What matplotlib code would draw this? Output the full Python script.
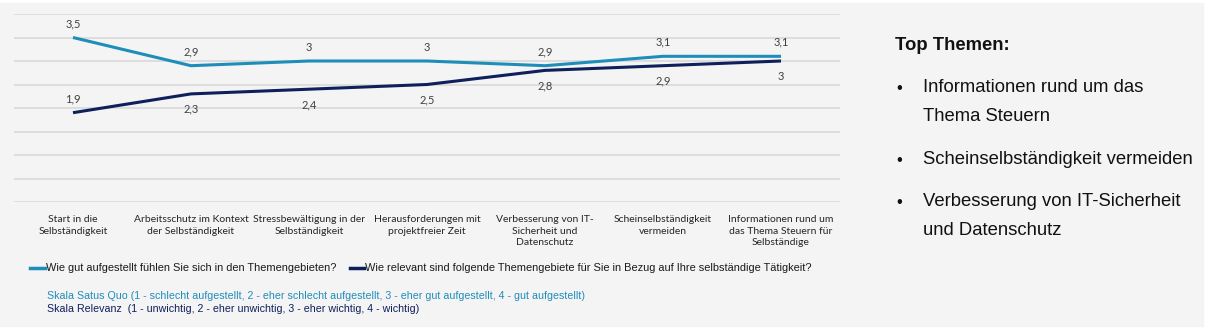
import numpy as np
import matplotlib.pyplot as plt
from matplotlib.patches import Rectangle

# data
categories = [
    'Start in die\nSelbständigkeit',
    'Arbeitsschutz im Kontext\nder Selbständigkeit',
    'Stressbewältigung in der\nSelbständigkeit',
    'Herausforderungen mit\nprojektfreier Zeit',
    'Verbesserung von IT-\nSicherheit und\nDatenschutz',
    'Scheinselbständigkeit\nvermeiden',
    'Informationen rund um\ndas Thema Steuern für\nSelbständige',
]
status_quo = [3.5, 2.9, 3.0, 3.0, 2.9, 3.1, 3.1]
relevanz = [1.9, 2.3, 2.4, 2.5, 2.8, 2.9, 3.0]
series_names = [
    'Wie gut aufgestellt fühlen Sie sich in den Themengebieten?',
    'Wie relevant sind folgende Themengebiete für Sie in Bezug auf Ihre selbständige Tätigkeit?',
]
scale_notes = [
    'Skala Satus Quo (1 - schlecht aufgestellt, 2 - eher schlecht aufgestellt, 3 - eher gut aufgestellt, 4 - gut aufgestellt)',
    'Skala Relevanz  (1 - unwichtig, 2 - eher unwichtig, 3 - eher wichtig, 4 - wichtig)',
]
top_title = 'Top Themen:'
top_items = [
    'Informationen rund um das\nThema Steuern',
    'Scheinselbständigkeit vermeiden',
    'Verbesserung von IT-Sicherheit\nund Datenschutz',
]

c_light = '#1f8dba'
c_dark = '#0f1f5c'
bg = '#f4f4f4'
W, H = 1210, 335

fig = plt.figure(figsize=(W / 100, H / 100), dpi=100)
fig.patch.set_facecolor('white')

# overlay in pixel coordinates for backgrounds and free text
over = fig.add_axes([0, 0, 1, 1])
over.set_xlim(0, W)
over.set_ylim(H, 0)
over.axis('off')
over.add_patch(Rectangle((0, 3), 1203, 323, color=bg, zorder=0))

def fx(px):
    return px / W

def fy(py):
    return 1 - py / H

ax = fig.add_axes([fx(14), fy(202), fx(840) - fx(14), fy(14) - fy(202)])
ax.set_facecolor('none')
x = np.arange(len(categories))
ax.set_xlim(-0.5, len(categories) - 0.5)
ax.set_ylim(0, 4)
ax.set_yticks(np.arange(0, 4.01, 0.5))
ax.grid(axis='y', color='#d9d9d9', linewidth=1.2)
ax.set_axisbelow(True)
for s in ax.spines.values():
    s.set_visible(False)
ax.tick_params(left=False, bottom=False, labelleft=False, pad=6)
ax.set_xticks(x)
ax.set_xticklabels(categories, fontsize=7.5, color='#262626', family='Lato',
                   linespacing=1.35, va='top')

ax.plot(x, status_quo, color=c_light, linewidth=2.2, solid_capstyle='butt')
ax.plot(x, relevanz, color=c_dark, linewidth=2.2, solid_capstyle='butt')

def fmt(v):
    return ('%g' % v).replace('.', ',')

for i, v in enumerate(status_quo):
    ax.annotate(fmt(v), (i, v), xytext=(0, 10), textcoords='offset points',
                ha='center', va='center', fontsize=8, color='#404040', family='Lato')
for i, v in enumerate(relevanz):
    off = 10 if i == 0 else -11
    ax.annotate(fmt(v), (i, v), xytext=(0, off), textcoords='offset points',
                ha='center', va='center', fontsize=8, color='#404040', family='Lato')

# legend
over.plot([30, 45], [268, 268], color=c_light, linewidth=2.5)
over.text(46, 268, series_names[0], fontsize=7.9, family='Liberation Sans', color='#1a1a1a', va='center')
over.plot([350, 364], [268, 268], color=c_dark, linewidth=2.5)
over.text(365, 268, series_names[1], fontsize=7.9, family='Liberation Sans', color='#1a1a1a', va='center')

over.text(47, 296, scale_notes[0], fontsize=7.7, family='Liberation Sans', color=c_light, va='center')
over.text(47, 309, scale_notes[1], fontsize=7.7, family='Liberation Sans', color=c_dark, va='center')

# right panel
over.text(895, 46, top_title, fontsize=13.3, fontweight='bold', family='Liberation Sans',
          color='#111111', va='center')
item_y = [85, 157, 199]
for yy, item in zip(item_y, top_items):
    over.text(896, yy + 4, '•', fontsize=12, family='Liberation Sans', color='#111111', va='center')
    over.text(923, yy - 6, item, fontsize=13.3, family='Liberation Sans', color='#111111',
              va='top', linespacing=1.9)

fig.savefig('out.png', dpi=100, facecolor=fig.get_facecolor())
